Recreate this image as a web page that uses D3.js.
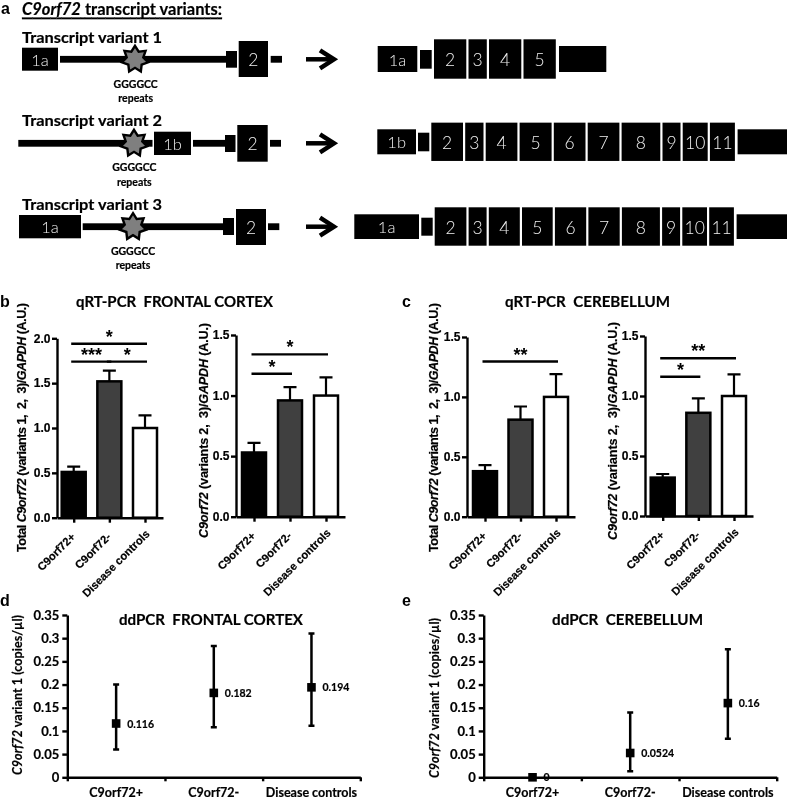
<!DOCTYPE html>
<html><head><meta charset="utf-8">
<script src="https://cdn.jsdelivr.net/npm/d3@7"></script>
<style>
html,body{margin:0;padding:0;background:#fff}
svg{display:block;filter:blur(0.3px)}
text{white-space:pre}
.ar{font-family:"Liberation Sans",Arial,sans-serif;font-weight:700}
.arx{font-family:"Liberation Sans",Arial,sans-serif;font-weight:700;stroke:#000;stroke-width:.2px}
.la{font-family:Lato,sans-serif;font-weight:700;stroke:#000;stroke-width:.2px}
</style></head><body><svg id="c" width="787" height="799"></svg>
<script>
// ---------- data ----------
const groups = ["C9orf72+", "C9orf72-", "Disease controls"];
const barFills = ["#000000", "#404040", "#ffffff"];

const frontalTotalMean = [0.51, 1.52, 1.0];
const frontalTotalUpper = [0.57, 1.64, 1.14];
const frontalTotalSig = [[0, 2, 1.94, "*"], [0, 1, 1.74, "***"], [1, 2, 1.74, "*"]];
const frontalV23Mean = [0.53, 0.96, 1.0];
const frontalV23Upper = [0.61, 1.07, 1.15];
const frontalV23Sig = [[0, 2, 1.34, "*"], [0, 1, 1.18, "*"]];
const cerebTotalMean = [0.38, 0.81, 1.0];
const cerebTotalUpper = [0.43, 0.92, 1.19];
const cerebTotalSig = [[0, 2, 1.295, "**"]];
const cerebV23Mean = [0.32, 0.86, 1.0];
const cerebV23Upper = [0.35, 0.98, 1.18];
const cerebV23Sig = [[0, 2, 1.315, "**"], [0, 1, 1.16, "*"]];

const ddFrontalValue = [0.116, 0.182, 0.194];
const ddFrontalLow = [0.06, 0.108, 0.111];
const ddFrontalHigh = [0.2, 0.283, 0.31];
const ddCerebValue = [0, 0.0524, 0.16];
const ddCerebLow = [null, 0.013, 0.083];
const ddCerebHigh = [null, 0.14, 0.276];

const barTicks15 = [0, 0.5, 1.0, 1.5];
const barTicks20 = [0, 0.5, 1.0, 1.5, 2.0];
const ddTicks = [0, 0.05, 0.1, 0.15, 0.2, 0.25, 0.3, 0.35];

// transcript models: exon labels and relative lengths
const v1Labels = ["2", "3", "4", "5"];
const v1Lengths = [32.3, 18.3, 32.3, 32.3];
const v2Labels = ["2", "3", "4", "5", "6", "7", "8", "9", "10", "11"];
const v2Lengths = [31.7, 18.3, 31.7, 32, 31.7, 31.7, 38.7, 18, 25, 25];
const v3Lengths = [31.7, 18, 31, 30.7, 31.3, 31.3, 38, 18, 24.7, 24.7];
const variantNames = ["Transcript variant 1", "Transcript variant 2", "Transcript variant 3"];

// ---------- helpers ----------
const svg = d3.select("#c");
const T = (x, y, s, cls, size, anchor) => svg.append("text").attr("x", x).attr("y", y).text(s)
  .attr("class", cls).attr("font-size", size).attr("text-anchor", anchor || "start").attr("dominant-baseline", "central");
const box = (x0, x1, y0, y1, label, size) => {
  svg.append("rect").attr("x", x0).attr("y", y0).attr("width", x1 - x0).attr("height", y1 - y0).attr("fill", "#000");
  if (label) svg.append("text").attr("x", (x0 + x1) / 2).attr("y", (y0 + y1) / 2 + 0.5).text(label)
    .attr("fill", "#f0f0f0").attr("font-family", "Lato,sans-serif").attr("font-weight", 300)
    .attr("font-size", size || 17.5).attr("text-anchor", "middle").attr("dominant-baseline", "central");
};
const rich = (g, parts) => parts.forEach(([s, it]) => g.append("tspan").text(s).attr("font-style", it ? "italic" : "normal"));
const vLabel = (x, yBottom, yTop, parts, cls, size) => {
  const t = svg.append("text").attr("class", cls).attr("font-size", size)
    .attr("transform", `translate(${x},${yBottom}) rotate(-90)`).attr("dominant-baseline", "central")
    .attr("textLength", yBottom - yTop).attr("lengthAdjust", "spacing");
  rich(t, parts);
};

// ---------- panel a ----------
function star(cx, cy) {
  const pts = d3.range(14).map(i => [i * Math.PI / 7, i % 2 ? 8.5 : 13.5]);
  svg.append("path").attr("transform", `translate(${cx},${cy})`)
    .attr("d", d3.lineRadial().curve(d3.curveLinearClosed)(pts))
    .attr("fill", "#7f7f7f").attr("stroke", "#000").attr("stroke-width", 2.4);
}
function arrow(y) {
  svg.append("path").attr("d", `M306,${y}H333`).attr("stroke", "#000").attr("stroke-width", 4.5).attr("fill", "none");
  svg.append("path").attr("d", `M320,${y - 9}L334,${y}L320,${y + 9}`).attr("stroke", "#000").attr("stroke-width", 4.5).attr("fill", "none");
}
function repeats(cx, y1, y2) {
  T(cx, y1, "GGGGCC", "la", 10.5, "middle");
  T(cx, y2, "repeats", "la", 10.5, "middle");
}
function exons(start, yc, h, labels, lengths) {
  const x = d3.scaleLinear().domain([0, 1]).range([start, start + 1]);
  let pos = 0;
  lengths.forEach((w, i) => {
    box(x(pos), x(pos + w), yc - h / 2, yc + h / 2, labels[i], 17.5);
    pos += w + 2.2;
  });
  return x(pos);
}
T(1, 8.5, "a", "ar", 16);
{
  const t = svg.append("text").attr("class", "la").attr("font-size", 16.5).attr("x", 22).attr("y", 8.5)
    .attr("dominant-baseline", "central").attr("text-decoration", "underline").attr("textLength", 200);
  rich(t, [["C9orf72", true], [" transcript variants:", false]]);
}
T(22, 37, variantNames[0], "la", 15).attr("textLength", 140).attr("lengthAdjust", "spacingAndGlyphs");
T(22, 120, variantNames[1], "la", 15).attr("textLength", 140).attr("lengthAdjust", "spacingAndGlyphs");
T(22, 203.5, variantNames[2], "la", 15).attr("textLength", 140).attr("lengthAdjust", "spacingAndGlyphs");

const bar = (x0, x1, y) => svg.append("rect").attr("x", x0).attr("y", y - 3.4).attr("width", x1 - x0).attr("height", 6.8).attr("fill", "#000");
// row 1
box(22, 58, 47.7, 70.7, "1a", 16.5);
bar(60, 228, 59.3); star(135, 59.3);
box(226, 237, 51, 67.7);
box(238.7, 268, 41, 77, "2", 17.5);
bar(270.7, 282, 59.3);
repeats(135.7, 83.5, 97.5); arrow(59.3);
// row 2
bar(18.3, 152.5, 143.3); star(134, 143.3);
box(154, 191, 131.7, 155, "1b", 16.5);
bar(193, 227, 143.3);
box(225, 235.5, 135, 152);
box(237.3, 267.7, 125, 161.7, "2", 17.5);
bar(270, 281, 143.3);
repeats(134.3, 167, 181.5); arrow(143.3);
// row 3
box(19, 81, 215, 238.3, "1a", 16.5);
bar(82.7, 225, 226.7); star(133, 226.7);
box(223, 234, 218, 235);
box(236, 266, 209, 245, "2", 17.5);
bar(268, 279.3, 226.7);
repeats(133, 250.7, 265); arrow(226.7);

// right-hand models
box(377.7, 417.3, 46, 72, "1a", 16.5); box(420, 431.7, 50, 68.7);
let e = exons(434, 59, 39.4, v1Labels, v1Lengths);
box(e + 1, 606.3, 46, 72);
box(377.3, 416, 129.3, 154.3, "1b", 16.5); box(418, 429.3, 132.7, 151.3);
e = exons(431.3, 141.8, 38.3, v2Labels, v2Lengths);
box(e + 0.5, 787, 129.3, 154.3);
box(354.3, 419, 214.3, 239, "1a", 16.5); box(421.3, 432.7, 217.7, 235.7);
e = exons(434.7, 226.5, 38.4, v2Labels, v3Lengths);
box(e + 0.5, 787, 214.3, 239);

// ---------- panels b, c ----------
function barPanel(o) {
  const y = d3.scaleLinear().domain([0, o.max]).range([o.y0, o.yTop]);
  const x = d3.scalePoint().domain(d3.range(groups.length)).range(o.cx);
  const bw = 24;
  const g = svg.append("g");
  o.mean.forEach((m, i) => {
    g.append("path").attr("d", `M${x(i)},${y(m)}V${y(o.upper[i])}M${x(i) - 6.5},${y(o.upper[i])}H${x(i) + 6.5}`)
      .attr("stroke", "#000").attr("stroke-width", 2.2).attr("fill", "none");
    g.append("rect").attr("x", x(i) - bw / 2).attr("y", y(m)).attr("width", bw).attr("height", y(0) - y(m))
      .attr("fill", barFills[i]).attr("stroke", "#000").attr("stroke-width", 2.5);
  });
  const ya = g.append("g").attr("transform", `translate(${o.axisX},0)`)
    .call(d3.axisLeft(y).tickValues(o.ticks).tickFormat(d3.format(".1f")).tickSize(5).tickSizeOuter(0));
  ya.selectAll("text").attr("class", "arx").attr("font-size", 12).attr("fill", "#000").attr("x", -6.5);
  const xa = g.append("g").attr("transform", `translate(0,${o.y0})`)
    .call(d3.axisBottom(d3.scaleLinear().domain([o.axisX, o.axisEnd]).range([o.axisX, o.axisEnd]))
      .tickValues(d3.range(groups.length).map(x)).tickFormat((d, i) => groups[i]).tickSize(5).tickSizeOuter(0));
  xa.selectAll("text").attr("class", "arx").attr("font-size", 11.2).attr("fill", "#000")
    .attr("text-anchor", "end").attr("dy", 0).attr("dominant-baseline", "central")
    .attr("transform", (d, i) => i === 2 ? "translate(2,14) rotate(-45)" : "translate(-1,17) rotate(-45)").attr("x", 0).attr("y", 0);
  [ya, xa].forEach(a => a.selectAll("path,line").attr("stroke", "#000").attr("stroke-width", 2.4));
  o.sig.forEach(([a, b, v, s]) => {
    g.append("line").attr("x1", x(a) - 2.5).attr("x2", x(b) + 2).attr("y1", y(v)).attr("y2", y(v))
      .attr("stroke", "#000").attr("stroke-width", 2.4);
    g.append("text").attr("class", "ar").attr("font-size", 18).attr("text-anchor", "middle")
      .attr("x", (x(a) + x(b)) / 2).attr("y", y(v) - 1).text(s);
  });
}
const totalLabel = [["Total ", false], ["C9orf72", true], [" (variants 1,  2,  3)/", false], ["GAPDH", true], [" (A.U.)", false]];
const v23Label = [["C9orf72", true], [" (variants 2,  3)/", false], ["GAPDH", true], [" (A.U.)", false]];

barPanel({ mean: frontalTotalMean, upper: frontalTotalUpper, sig: frontalTotalSig, max: 2, ticks: barTicks20, y0: 517.7, yTop: 338.3, cx: [73.7, 145], axisX: 57, axisEnd: 163 });
barPanel({ mean: frontalV23Mean, upper: frontalV23Upper, sig: frontalV23Sig, max: 1.5, ticks: barTicks15, y0: 516.7, yTop: 335, cx: [254, 326], axisX: 236, axisEnd: 345 });
barPanel({ mean: cerebTotalMean, upper: cerebTotalUpper, sig: cerebTotalSig, max: 1.5, ticks: barTicks15, y0: 516.7, yTop: 337, cx: [485, 556], axisX: 467, axisEnd: 575 });
barPanel({ mean: cerebV23Mean, upper: cerebV23Upper, sig: cerebV23Sig, max: 1.5, ticks: barTicks15, y0: 516, yTop: 336, cx: [662.7, 734], axisX: 645, axisEnd: 753 });

vLabel(22, 552, 303, totalLabel, "arx", 12.6);
vLabel(204, 538, 323, v23Label, "arx", 12.6);
vLabel(434, 552, 303, totalLabel, "arx", 12.6);
vLabel(612.7, 540, 322, v23Label, "arx", 12.6);

T(0, 301, "b", "ar", 16);
T(402, 301, "c", "ar", 16);
T(76, 300, "qRT-PCR  FRONTAL CORTEX", "la", 16).attr("textLength", 197).attr("lengthAdjust", "spacingAndGlyphs");
T(505, 300, "qRT-PCR  CEREBELLUM", "la", 16).attr("textLength", 165).attr("lengthAdjust", "spacingAndGlyphs");

// ---------- panels d, e ----------
function ddPanel(o) {
  const y = d3.scaleLinear().domain([0, 0.35]).range([777.3, 615]);
  const x = d3.scaleBand().domain(groups).range([o.x0, o.x0 + 293]);
  const g = svg.append("g");
  const ya = g.append("g").attr("transform", `translate(${o.x0},0)`)
    .call(d3.axisLeft(y).tickValues(ddTicks).tickFormat(d3.format("~g")).tickSize(5).tickSizeOuter(0));
  ya.selectAll("text").attr("class", "la").attr("font-size", 13).attr("fill", "#000").attr("x", -8);
  const xa = g.append("g").attr("transform", `translate(0,777.3)`)
    .call(d3.axisBottom(d3.scaleLinear().domain([o.x0, o.x0 + 293]).range([o.x0, o.x0 + 293]))
      .tickValues(d3.range(4).map(i => o.x0 + i * x.step())).tickFormat("").tickSize(4).tickSizeOuter(0));
  [ya, xa].forEach(a => a.selectAll("path,line").attr("stroke", "#000").attr("stroke-width", 2.4));
  groups.forEach((gr, i) => {
    const cx = x(gr) + x.bandwidth() / 2;
    if (o.low[i] !== null) {
      g.append("path").attr("d", `M${cx},${y(o.low[i])}V${y(o.high[i])}M${cx - 3},${y(o.low[i])}H${cx + 3}M${cx - 3},${y(o.high[i])}H${cx + 3}`)
        .attr("stroke", "#000").attr("stroke-width", 2.5).attr("fill", "none");
    }
    g.append("rect").attr("x", cx - 4.3).attr("y", y(o.val[i]) - 4.3).attr("width", 8.6).attr("height", 8.6).attr("fill", "#000");
    T(cx + 11, y(o.val[i]), String(o.val[i]), "la", 10.5);
    T(cx, 792.5, gr, "la", 12.5, "middle");
  });
}
ddPanel({ x0: 67.3, val: ddFrontalValue, low: ddFrontalLow, high: ddFrontalHigh });
ddPanel({ x0: 483.7, val: ddCerebValue, low: ddCerebLow, high: ddCerebHigh });

const ddLabel = [["C9orf72", true], [" variant 1 (copies/µl)", false]];
vLabel(17, 775, 615, ddLabel, "la", 12.5);
vLabel(434, 778, 618, ddLabel, "la", 12.5);
T(0, 600, "d", "ar", 16);
T(402, 600, "e", "ar", 16);
T(119, 618, "ddPCR  FRONTAL CORTEX", "la", 16).attr("textLength", 184).attr("lengthAdjust", "spacingAndGlyphs");
T(552, 618, "ddPCR  CEREBELLUM", "la", 16).attr("textLength", 151).attr("lengthAdjust", "spacingAndGlyphs");
</script></body></html>
